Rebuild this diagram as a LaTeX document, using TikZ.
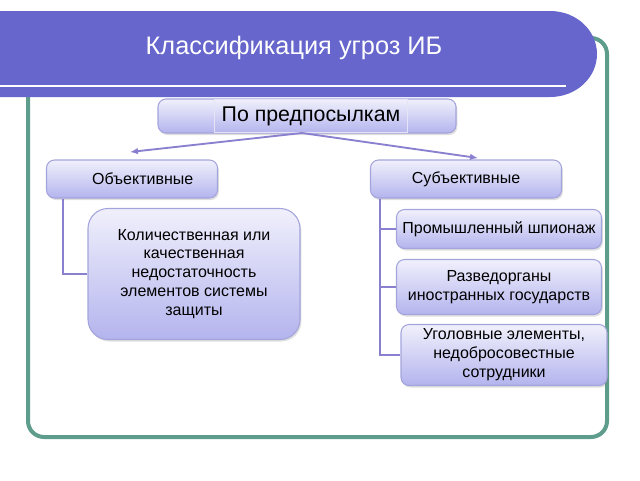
\documentclass[tikz,border=0pt]{standalone}
\usepackage{fontspec}
\setmainfont{Liberation Sans}
\usetikzlibrary{shadows,arrows.meta}
\definecolor{ban}{HTML}{6666CC}
\definecolor{frm}{HTML}{5E9C8C}
\definecolor{bxtop}{HTML}{F0F0FC}
\definecolor{bxbot}{HTML}{B4B4EE}
\definecolor{bxline}{HTML}{A4A4DC}
\definecolor{conn}{HTML}{8A80D0}
\tikzset{
  box/.style={draw=bxline, line width=0.8pt, rounded corners=6pt, top color=bxtop, bottom color=bxbot,
    drop shadow={shadow xshift=1pt, shadow yshift=-1.5pt, opacity=0.25}, align=center, inner sep=0pt, font=\fontsize{12pt}{14.2pt}\selectfont},
  conline/.style={draw=conn, line width=1.4pt},
  arr/.style={conline, -{Latex[length=6pt,width=5pt]}},
}
\begin{document}
\begin{tikzpicture}[x=0.75pt,y=-0.75pt]
\useasboundingbox (0,0) rectangle (640,480);
% frame
\draw[frm, line width=3pt, rounded corners=12pt] (28,38) rectangle (607,437);
% banner
\fill[ban] (0,11) -- (550,11) .. controls (577,11) and (597,31) .. (597,54) .. controls (597,77) and (577,97) .. (550,97) -- (0,97) -- cycle;
\draw[white, line width=2.2pt] (0,86) -- (566,86);
\node[text=white, font=\fontsize{19pt}{22pt}\selectfont] (title) at (294,48) {Классификация угроз ИБ};
% top box
\node[box, minimum width=298*0.75pt, minimum height=34*0.75pt] (pre) at (307,116) {};
\node[draw=white!70!bxline, line width=0.8pt, minimum width=193*0.75pt, minimum height=33*0.75pt, inner sep=0pt, font=\fontsize{16pt}{19pt}\selectfont] (pretext) at (311,116) {По предпосылкам};
% second level
\node[box, minimum width=171*0.75pt, minimum height=38*0.75pt] (obj) at (132,179) {\hspace*{16pt}Объективные};
\node[box, minimum width=191*0.75pt, minimum height=38*0.75pt] (sub) at (466,179) {Субъективные};
% leaves
\node[box, rounded corners=15pt, minimum width=212*0.75pt, minimum height=131*0.75pt] (q) at (194,274) {Количественная или\\качественная\\недостаточность\\элементов системы\\защиты};
\node[box, minimum width=205*0.75pt, minimum height=39*0.75pt] (s1) at (499,229) {Промышленный шпионаж};
\node[box, minimum width=205*0.75pt, minimum height=55*0.75pt] (s2) at (499,287) {Разведорганы\\иностранных государств};
\node[box, minimum width=206*0.75pt, minimum height=61*0.75pt] (s3) at (504,355) {Уголовные элементы,\\недобросовестные\\сотрудники};
% connectors
\coordinate (pb) at (302,133);
\draw[arr] (pb) -- (130,152);
\draw[arr] (pb) -- (478,158);
\draw[conline] (obj.south west) ++(17,0) |- (q.west);
\draw[conline] (sub.south west) ++(10,0) |- (s1.west);
\draw[conline] (sub.south west) ++(10,0) |- (s2.west);
\draw[conline] (sub.south west) ++(10,0) |- (s3.west);
\end{tikzpicture}
\end{document}
